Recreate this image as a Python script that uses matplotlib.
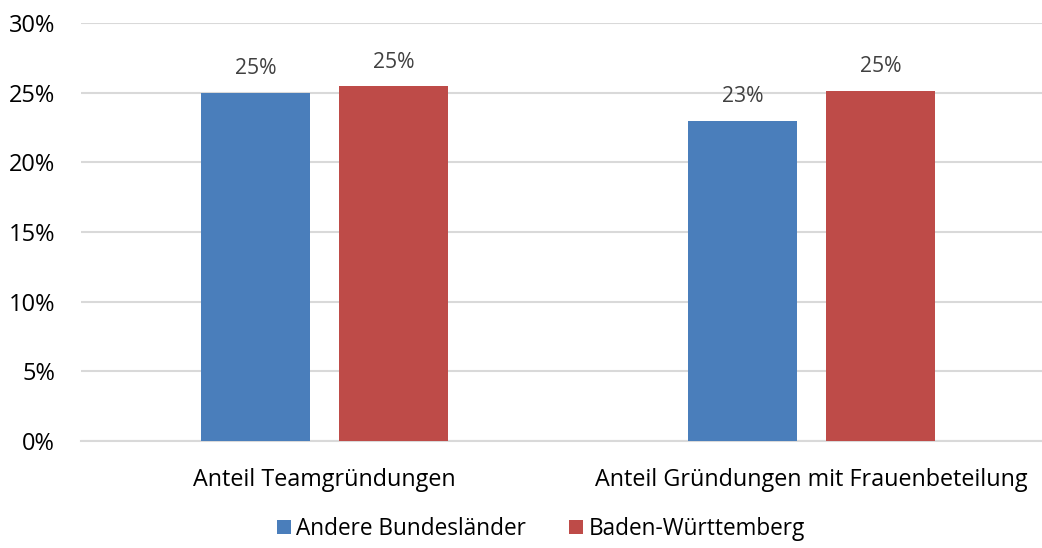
import matplotlib
matplotlib.use("Agg")
import matplotlib.pyplot as plt
import numpy as np
from matplotlib.ticker import PercentFormatter

categories = ["Anteil Teamgründungen", "Anteil Gründungen mit Frauenbeteilung"]
series_names = ["Andere Bundesländer", "Baden-Württemberg"]
andere = [25.0, 23.0]
bw = [25.45, 25.1]
labels_andere = ["25%", "23%"]
labels_bw = ["25%", "25%"]
colors = ["#4a7ebb", "#be4b48"]

plt.rcParams['font.family'] = ['Open Sans', 'DejaVu Sans']

W, H = 1042, 548
fig = plt.figure(figsize=(W / 100, H / 100), dpi=100)
left = 81 / W
bottom = (H - 441) / H
top = (H - 23) / H
ax = fig.add_axes([left, bottom, 1 - left, top - bottom])

x = np.arange(len(categories))
bw_width = 0.224
off = 0.142
b1 = ax.bar(x - off, andere, width=bw_width, color=colors[0], label=series_names[0], zorder=3)
b2 = ax.bar(x + off, bw, width=bw_width, color=colors[1], label=series_names[1], zorder=3)

for bars, labs in ((b1, labels_andere), (b2, labels_bw)):
    for r, t in zip(bars, labs):
        ax.annotate(t, (r.get_x() + r.get_width() / 2, r.get_height()),
                    xytext=(0, 10), textcoords="offset points", ha="center", va="bottom",
                    fontsize=15.2, color="#404040")

ax.set_ylim(0, 30)
ax.set_xlim(-0.5, -0.5 + (W - 81) / 487)
ax.set_yticks([0, 5, 10, 15, 20, 25, 30])
ax.yaxis.set_major_formatter(PercentFormatter(decimals=0))
ax.set_xticks(x)
ax.set_xticklabels(categories)
ax.tick_params(axis='both', length=0, colors="black")
ax.tick_params(axis='x', pad=19.5, labelsize=16.8)
ax.tick_params(axis='y', pad=18.7, labelsize=17)
for lab in ax.get_yticklabels():
    lab.set_horizontalalignment('right')
ax.grid(axis='y', color="#d9d9d9", linewidth=1.5, zorder=0)
for s in ["top", "right", "left"]:
    ax.spines[s].set_visible(False)
ax.spines["bottom"].set_color("#d9d9d9")
ax.spines["bottom"].set_linewidth(1.5)

fig.legend(loc="center", bbox_to_anchor=(541 / W, (H - 529) / H), ncol=2, frameon=False,
           fontsize=16.3, handlelength=0.6, handleheight=0.6, handletextpad=0.25, columnspacing=1.9)

fig.savefig("out.png", dpi=100)
